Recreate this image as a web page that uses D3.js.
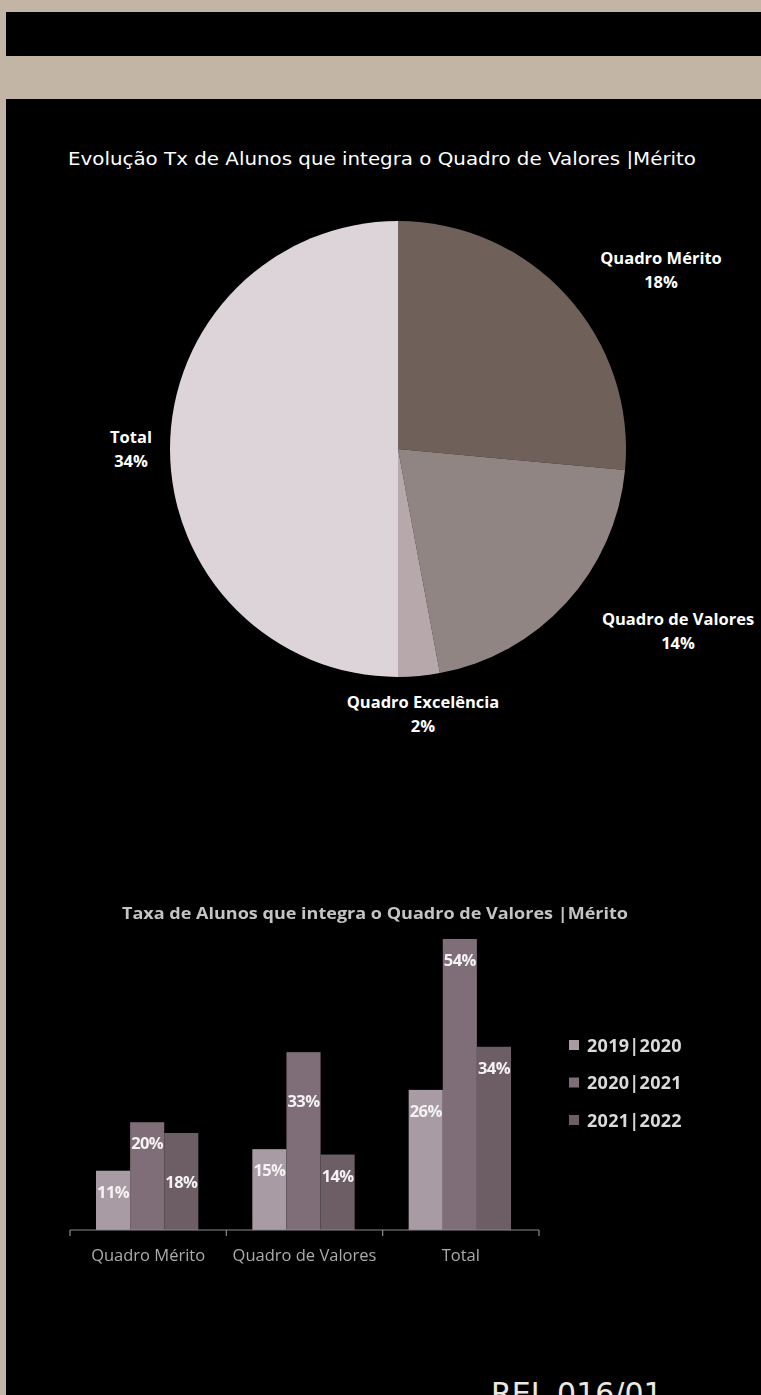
<!DOCTYPE html>
<html>
<head>
<meta charset="utf-8">
<script src="https://cdn.jsdelivr.net/npm/d3@7"></script>
<style>
  html, body { margin: 0; padding: 0; background: #c2b5a5; }
  svg { display: block; }
</style>
</head>
<body>
<svg id="page" width="761" height="1395"></svg>
<script>
// ---- Pie: distribution of students by board ----
const pieCategories = ["Quadro Mérito", "Quadro de Valores", "Quadro Excelência", "Total"];
const pieValues = [18, 14, 2, 34];
const pieColors = ["#6f6159", "#918584", "#b7a9ab", "#dcd4d8"];

// ---- Grouped bars: yearly rate per board ----
const barCategories = ["Quadro Mérito", "Quadro de Valores", "Total"];
const barSeries = ["2019|2020", "2020|2021", "2021|2022"];
const values2019 = [11, 15, 26];
const values2020 = [20, 33, 54];
const values2021 = [18, 14, 34];
const barColors = ["#a99ba3", "#7f6d77", "#6d5d65"];

const svg = d3.select("#page");

// Page frame: beige backdrop with black header strip and black content panel
svg.append("rect").attr("x", 0).attr("y", 0).attr("width", 761).attr("height", 1395).attr("fill", "#c2b5a5");
svg.append("rect").attr("x", 6).attr("y", 12).attr("width", 755).attr("height", 44).attr("fill", "#000");
svg.append("rect").attr("x", 6).attr("y", 99).attr("width", 755).attr("height", 1296).attr("fill", "#000");

// ---------- Pie chart ----------
svg.append("text")
  .attr("x", 68).attr("y", 165)
  .attr("fill", "#ffffff")
  .attr("font-family", "'DejaVu Sans', sans-serif")
  .attr("font-size", 17.5)
  .attr("textLength", 628)
  .attr("lengthAdjust", "spacingAndGlyphs")
  .text("Evolução Tx de Alunos que integra o Quadro de Valores |Mérito");

const pieCx = 398, pieCy = 449, pieR = 228;
const pie = d3.pie().sort(null).value(d => d.value);
const arc = d3.arc().innerRadius(0).outerRadius(pieR);
const pieData = pieCategories.map((c, i) => ({ name: c, value: pieValues[i], color: pieColors[i] }));

const pieG = svg.append("g").attr("transform", `translate(${pieCx},${pieCy})`);
pieG.selectAll("path")
  .data(pie(pieData))
  .join("path")
  .attr("d", arc)
  .attr("fill", d => d.data.color);

// Outside labels: name on the first line, value below
const pieLabelPos = {
  "Quadro Mérito": [661, 264],
  "Quadro de Valores": [678, 625],
  "Quadro Excelência": [423, 708],
  "Total": [131, 443]
};
pie(pieData).forEach(d => {
  const [lx, ly] = pieLabelPos[d.data.name];
  const t = svg.append("text")
    .attr("text-anchor", "middle")
    .attr("fill", "#ffffff")
    .attr("font-family", "'Open Sans', sans-serif")
    .attr("font-weight", 700)
    .attr("font-size", 16.5);
  t.append("tspan").attr("x", lx).attr("y", ly).text(d.data.name);
  t.append("tspan").attr("x", lx).attr("y", ly + 24).text(d.data.value + "%");
});

// ---------- Grouped bar chart ----------
const defs = svg.append("defs");
defs.append("filter").attr("id", "soft")
  .attr("x", "-5%").attr("y", "-5%").attr("width", "110%").attr("height", "110%")
  .append("feGaussianBlur").attr("stdDeviation", 0.6);

const barG = svg.append("g").attr("filter", "url(#soft)");

barG.append("text")
  .attr("x", 122).attr("y", 919)
  .attr("fill", "#c4c4c4")
  .attr("font-family", "'Open Sans', sans-serif")
  .attr("font-weight", 700)
  .attr("font-size", 15.5)
  .attr("textLength", 506)
  .attr("lengthAdjust", "spacingAndGlyphs")
  .text("Taxa de Alunos que integra o Quadro de Valores |Mérito");

const baseline = 1230;
const x0 = d3.scaleBand().domain(barCategories).range([70, 539]).paddingInner(0).paddingOuter(0);
const x1 = d3.scaleBand().domain(barSeries).range([26, x0.bandwidth() - 28]).padding(0);
const y = d3.scaleLinear().domain([0, 54]).range([baseline, 939]);

const seriesValues = [values2019, values2020, values2021];
const rows = [];
barSeries.forEach((s, si) => {
  barCategories.forEach((c, ci) => {
    rows.push({ series: s, cat: c, value: seriesValues[si][ci], color: barColors[si] });
  });
});

barG.selectAll("rect.bar")
  .data(rows)
  .join("rect")
  .attr("class", "bar")
  .attr("x", d => x0(d.cat) + x1(d.series))
  .attr("y", d => y(d.value))
  .attr("width", x1.bandwidth())
  .attr("height", d => baseline - y(d.value))
  .attr("fill", d => d.color);

// Value labels sit just inside the top of each bar; two are dropped lower
const dropLower = new Set(["2021|2022/Quadro Mérito", "2020|2021/Quadro de Valores"]);
barG.selectAll("text.val")
  .data(rows)
  .join("text")
  .attr("class", "val")
  .attr("x", d => x0(d.cat) + x1(d.series) + x1.bandwidth() / 2)
  .attr("y", d => y(d.value) + (dropLower.has(d.series + "/" + d.cat) ? 55 : 27))
  .attr("text-anchor", "middle")
  .attr("fill", "#f4f2f3")
  .attr("font-family", "'Open Sans', sans-serif")
  .attr("font-weight", 700)
  .attr("font-size", 16.5)
  .attr("letter-spacing", -0.6)
  .text(d => d.value + "%");

// Category axis with boundary ticks
const axisG = barG.append("g").attr("transform", `translate(0,${baseline})`);
axisG.append("line")
  .attr("x1", x0.range()[0]).attr("x2", x0.range()[1])
  .attr("stroke", "#8a8a8a").attr("stroke-width", 1.2);
const tickXs = barCategories.map(c => x0(c)).concat([x0.range()[1]]);
axisG.selectAll("line.tick")
  .data(tickXs)
  .join("line")
  .attr("class", "tick")
  .attr("x1", d => d).attr("x2", d => d)
  .attr("y1", 0).attr("y2", 6)
  .attr("stroke", "#8a8a8a").attr("stroke-width", 1.2);
axisG.selectAll("text.cat")
  .data(barCategories)
  .join("text")
  .attr("class", "cat")
  .attr("x", d => x0(d) + x0.bandwidth() / 2)
  .attr("y", 31)
  .attr("text-anchor", "middle")
  .attr("fill", "#ababab")
  .attr("font-family", "'Open Sans', sans-serif")
  .attr("font-size", 16.5)
  .text(d => d);

// Legend
const legend = barG.append("g").attr("transform", "translate(569,1045)");
const legItems = legend.selectAll("g")
  .data(barSeries)
  .join("g")
  .attr("transform", (d, i) => `translate(0,${i * 37.5})`);
legItems.append("rect")
  .attr("x", 0).attr("y", -5).attr("width", 10).attr("height", 10)
  .attr("fill", (d, i) => barColors[i]);
legItems.append("text")
  .attr("x", 18).attr("y", 6.5)
  .attr("fill", "#dadada")
  .attr("font-family", "'Open Sans', sans-serif")
  .attr("font-weight", 700)
  .attr("font-size", 18)
  .attr("letter-spacing", 0.3)
  .text(d => d);

// Footer reference code
svg.append("text")
  .attr("x", 491).attr("y", 1404)
  .attr("fill", "#ece8e1")
  .attr("font-family", "'DejaVu Sans', sans-serif")
  .attr("font-size", 30)
  .text("REL 016/01");
</script>
</body>
</html>
